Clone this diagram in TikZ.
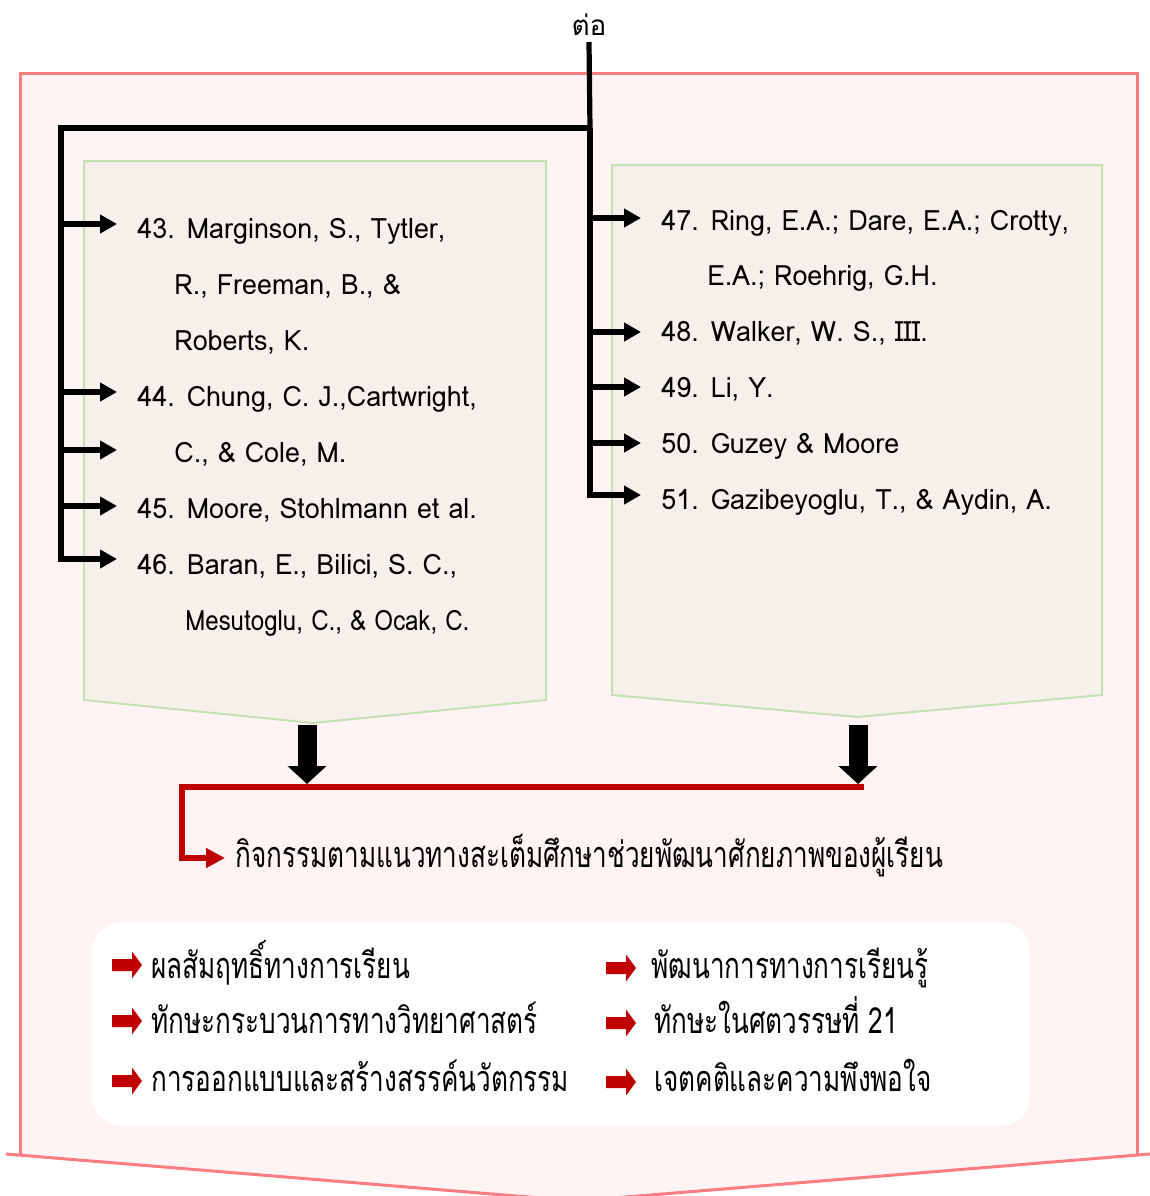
\documentclass[tikz,border=0pt]{standalone}
\usepackage{fontspec}
\setmainfont[Script=Thai]{Loma}
\newfontfamily\listfont[Script=Thai,FakeStretch=0.96]{Loma}
\newfontfamily\listnarrow[Script=Thai,FakeStretch=0.86]{Loma}
\newfontfamily\thaicond[Script=Thai,FakeStretch=0.725]{Loma}
\usetikzlibrary{arrows.meta,calc}
\definecolor{panelfill}{HTML}{FFF3F3}
\definecolor{panelline}{HTML}{FF7C80}
\definecolor{boxfill}{HTML}{F5F0EA}
\definecolor{boxline}{HTML}{C5E0B4}
\definecolor{deepred}{HTML}{C00000}
\begin{document}
\begin{tikzpicture}[x=0.5pt,y=-0.5pt,
  refline/.style={anchor=base west, inner sep=0pt, font=\listfont\fontsize{14pt}{14pt}\selectfont},
  thaiitem/.style={anchor=base west, inner sep=0pt, font=\thaicond\fontsize{18pt}{18pt}\selectfont},
  tree/.style={line width=2.6pt, line join=miter, black},
  tiparrow/.style={-{Triangle[length=8.5pt,width=9pt]}},
  gbox/.style={fill=boxfill, draw=boxline, line width=1pt, line join=miter},
  bigdown/.style={line width=9.5pt, -{Triangle[length=9pt,width=19pt]}},
  redlink/.style={deepred, line width=3pt, line join=miter, -{Triangle[length=9.5pt,width=9.5pt]}},
  barrow/.pic={\fill[deepred] (0,-6) -- (20,-6) -- (20,-13.5) -- (30,0) -- (20,13.5) -- (20,6) -- (0,6) -- cycle;}
]
\useasboundingbox (0,0) rectangle (1150,1196);

% outer panel with a pointed bottom
\fill[panelfill] (20,73) -- (1137,73) -- (1137,1155) -- (577,1201) -- (20,1155) -- cycle;
\draw[panelline, line width=1.5pt, line join=miter] (20,1155) -- (20,73) -- (1137,73) -- (1137,1155);
\draw[panelline, line width=1.5pt] (6,1154) -- (577,1201) -- (1150,1154);

% the two reference boxes
\draw[gbox] (84,161) -- (546,161) -- (546,700) -- (313,723) -- (84,700) -- cycle;
\draw[gbox] (612,165) -- (1102,165) -- (1102,695) -- (857,717) -- (612,695) -- cycle;
\coordinate (ltip) at (307,725);
\coordinate (rtip) at (858,725);

% heading
\node[anchor=base, inner sep=0pt, font=\fontsize{14pt}{14pt}\selectfont] (cont) at (589,35) {ต่อ};

% left list
\node[refline] (n43)  at (137,238) {43. Marginson, S., Tytler,};
\node[refline] (n43b) at (174,294) {R., Freeman, B., \&};
\node[refline] (n43c) at (174,350) {Roberts, K.};
\node[refline] (n44)  at (137,406) {44. Chung, C. J.,Cartwright,};
\node[refline] (n44b) at (174,462) {C., \& Cole, M.};
\node[refline] (n45)  at (137,518) {45. Moore, Stohlmann et al.};
\node[refline] (n46)  at (137,574) {46. Baran, E., Bilici, S. C.,};
\node[refline, font=\listnarrow\fontsize{14pt}{14pt}\selectfont] (n46b) at (185,630) {Mesutoglu, C., \& Ocak, C.};

% right list
\node[refline] (n47)  at (661,230) {47. Ring, E.A.; Dare, E.A.; Crotty,};
\node[refline] (n47b) at (707,285) {E.A.; Roehrig, G.H.};
\node[refline] (n48)  at (661,341) {48. Walker, W. S., I{}I{}I.};
\node[refline] (n49)  at (661,397) {49. Li, Y.};
\node[refline] (n50)  at (661,453) {50. Guzey \& Moore};
\node[refline] (n51)  at (661,509) {51. Gazibeyoglu, T., \& Aydin, A.};

% branching connectors
\coordinate (top) at (590,42);
\coordinate (fork) at (590,128);
\coordinate (lcorner) at (61,128);
\coordinate (lx) at ($(n43.base west)+(-20,0)$);
\coordinate (rx) at ($(n47.base west)+(-20,0)$);
\foreach \n/\d in {n43/14,n44/14,n44b/12,n45/12,n46/15}
  \coordinate (y\n) at ($(\n.base west)+(0,-\d)$);
\foreach \n/\d in {n47/12,n48/9,n49/10,n50/10,n51/14}
  \coordinate (y\n) at ($(\n.base west)+(0,-\d)$);

\draw[tree] (cont.base |- top) -- (fork);
\draw[tree, tiparrow] (fork) -- (lcorner) -- (lcorner |- yn46) -- (yn46 -| lx);
\foreach \n in {n43,n44,n44b,n45}
  \draw[tree, tiparrow] (y\n -| lcorner) -- (y\n -| lx);
\draw[tree, tiparrow] (fork) -- (fork |- yn51) -- (yn51 -| rx);
\foreach \n in {n47,n48,n49,n50}
  \draw[tree, tiparrow] (y\n -| fork) -- (y\n -| rx);

% merge into the outcome line
\coordinate (redR) at (864,787);
\coordinate (redL) at (182,787);
\draw[bigdown] (ltip) -- (ltip |- 0,784);
\draw[bigdown] (rtip) -- (rtip |- 0,784);
\node[thaiitem] (goal) at (235,867) {กิจกรรมตามแนวทางสะเต็มศึกษาช่วยพัฒนาศักยภาพของผู้เรียน};
\coordinate (goalin) at ($(goal.base west)+(-10,-9)$);
\draw[redlink] (redR) -- (redL) |- (goalin);

% outcomes panel
\fill[white, rounded corners=15pt] (92,922) rectangle (1030,1126);
\node[thaiitem] (o1) at (151,978)  {ผลสัมฤทธิ์ทางการเรียน};
\node[thaiitem] (o2) at (151,1033) {ทักษะกระบวนการทางวิทยาศาสตร์};
\node[thaiitem] (o3) at (151,1091) {การออกแบบและสร้างสรรค์นวัตกรรม};
\node[thaiitem] (o4) at (651,978)  {พัฒนาการทางการเรียนรู้};
\node[thaiitem] (o5) at (654,1033) {ทักษะในศตวรรษที่ 21};
\node[thaiitem] (o6) at (654,1091) {เจตคติและความพึงพอใจ};
\pic at (112,965) {barrow};
\pic at (112,1021) {barrow};
\pic at (112,1081) {barrow};
\pic at (606,968) {barrow};
\pic at (606,1023) {barrow};
\pic at (606,1082) {barrow};
\end{tikzpicture}
\end{document}
